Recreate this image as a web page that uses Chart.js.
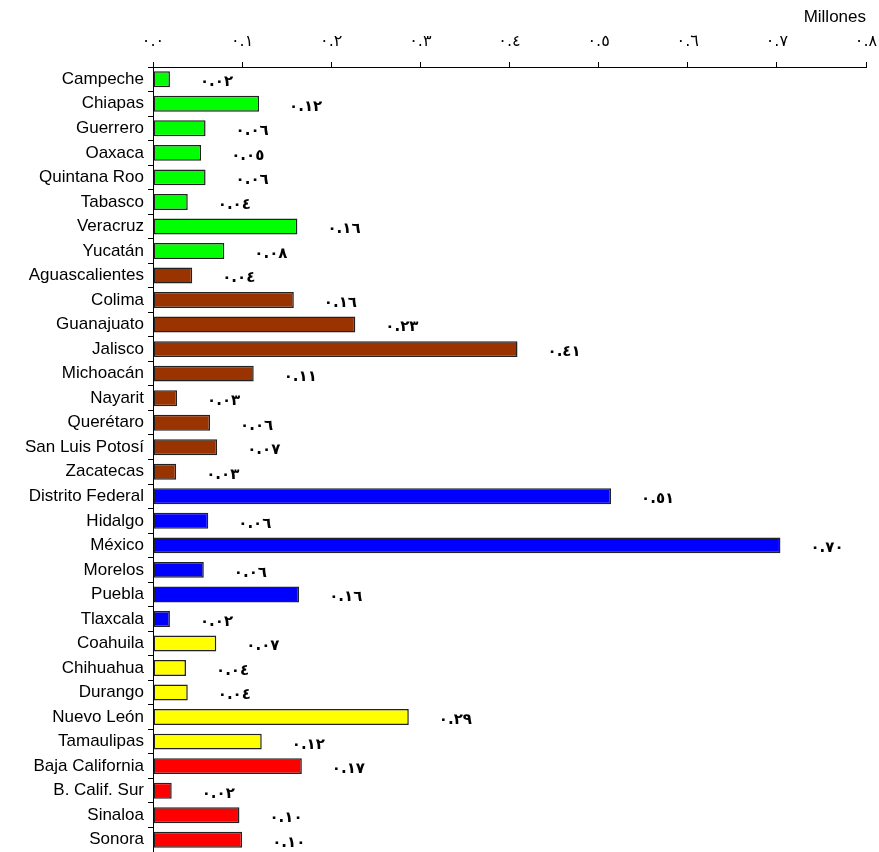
<!DOCTYPE html>
<html>
<head>
<meta charset="utf-8">
<script src="https://cdn.jsdelivr.net/npm/chart.js@4/dist/chart.umd.min.js"></script>
<style>
  html, body { margin: 0; padding: 0; background: #fff; }
  #wrap { width: 879px; height: 852px; }
</style>
</head>
<body>
<div id="wrap"><canvas id="chart"></canvas></div>
<script>
const states = [
  'Campeche', 'Chiapas', 'Guerrero', 'Oaxaca', 'Quintana Roo', 'Tabasco', 'Veracruz', 'Yucatán',
  'Aguascalientes', 'Colima', 'Guanajuato', 'Jalisco', 'Michoacán', 'Nayarit', 'Querétaro',
  'San Luis Potosí', 'Zacatecas',
  'Distrito Federal', 'Hidalgo', 'México', 'Morelos', 'Puebla', 'Tlaxcala',
  'Coahuila', 'Chihuahua', 'Durango', 'Nuevo León', 'Tamaulipas',
  'Baja California', 'B. Calif. Sur', 'Sinaloa', 'Sonora'
];

const millions = [
  0.019, 0.119, 0.059, 0.054, 0.059, 0.039, 0.162, 0.080,
  0.044, 0.158, 0.227, 0.409, 0.113, 0.027, 0.064, 0.072, 0.026,
  0.514, 0.062, 0.704, 0.057, 0.164, 0.019,
  0.071, 0.037, 0.039, 0.287, 0.122,
  0.167, 0.021, 0.097, 0.100
];

const regions = [
  'sur', 'sur', 'sur', 'sur', 'sur', 'sur', 'sur', 'sur',
  'centro', 'centro', 'centro', 'centro', 'centro', 'centro', 'centro', 'centro', 'centro',
  'capital', 'capital', 'capital', 'capital', 'capital', 'capital',
  'norte', 'norte', 'norte', 'norte', 'norte',
  'pacifico', 'pacifico', 'pacifico', 'pacifico'
];

const xTicks = [0, 0.1, 0.2, 0.3, 0.4, 0.5, 0.6, 0.7, 0.8];

const regionColors = {
  sur: '#00ff00',
  centro: '#993300',
  capital: '#0000ff',
  norte: '#ffff00',
  pacifico: '#ff0000'
};

const arabicDigits = '٠١٢٣٤٥٦٧٨٩';
function toArabic(str) {
  return str.replace(/[0-9]/g, (d) => arabicDigits[d]);
}

const valueLabels = {
  id: 'valueLabels',
  afterDatasetsDraw(chart) {
    const ctx = chart.ctx;
    const meta = chart.getDatasetMeta(0);
    ctx.save();
    ctx.fillStyle = '#000';
    ctx.font = 'bold 15px "DejaVu Sans"';
    ctx.textAlign = 'left';
    ctx.textBaseline = 'middle';
    meta.data.forEach((bar, i) => {
      ctx.fillText(toArabic(millions[i].toFixed(2)), bar.x + 30, bar.y + 3);
    });
    ctx.restore();
  }
};

new Chart(document.getElementById('chart'), {
  type: 'bar',
  data: {
    labels: states,
    datasets: [{
      data: millions,
      backgroundColor: regions.map((r) => regionColors[r]),
      borderColor: '#222',
      borderWidth: 1.5,
      borderSkipped: false,
      barPercentage: 0.65,
      categoryPercentage: 1
    }]
  },
  options: {
    indexAxis: 'y',
    responsive: true,
    maintainAspectRatio: false,
    animation: false,
    layout: { padding: { top: 0, right: 13, bottom: 0, left: 0 } },
    plugins: {
      legend: { display: false },
      tooltip: { enabled: false }
    },
    scales: {
      x: {
        position: 'top',
        min: 0,
        max: 0.8,
        afterBuildTicks(scale) {
          scale.ticks = xTicks.map((v) => ({ value: v }));
        },
        afterFit(scale) {
          scale.height = 67;
          scale.paddingLeft = 0;
          scale.paddingRight = 0;
        },
        grid: { drawOnChartArea: false, tickLength: 5, color: '#000' },
        border: { color: '#000', width: 1 },
        ticks: {
          color: '#000',
          padding: 11,
          maxRotation: 0,
          font: { family: 'DejaVu Sans', size: 16 },
          callback: (v) => toArabic(Number(v).toFixed(1))
        },
        title: {
          display: true,
          text: 'Millones',
          align: 'end',
          color: '#000',
          padding: { top: 7, bottom: 0 },
          font: { family: 'Liberation Sans', size: 17 }
        }
      },
      y: {
        afterFit(scale) {
          scale.width = 153;
          scale.paddingTop = 0;
          scale.paddingBottom = 0;
        },
        grid: { drawOnChartArea: false, tickLength: 5, color: '#000', offset: true },
        border: { color: '#000', width: 1 },
        ticks: {
          color: '#000',
          padding: 4,
          autoSkip: false,
          font: { family: 'Liberation Sans', size: 17 }
        }
      }
    }
  },
  plugins: [valueLabels]
});
</script>
</body>
</html>
